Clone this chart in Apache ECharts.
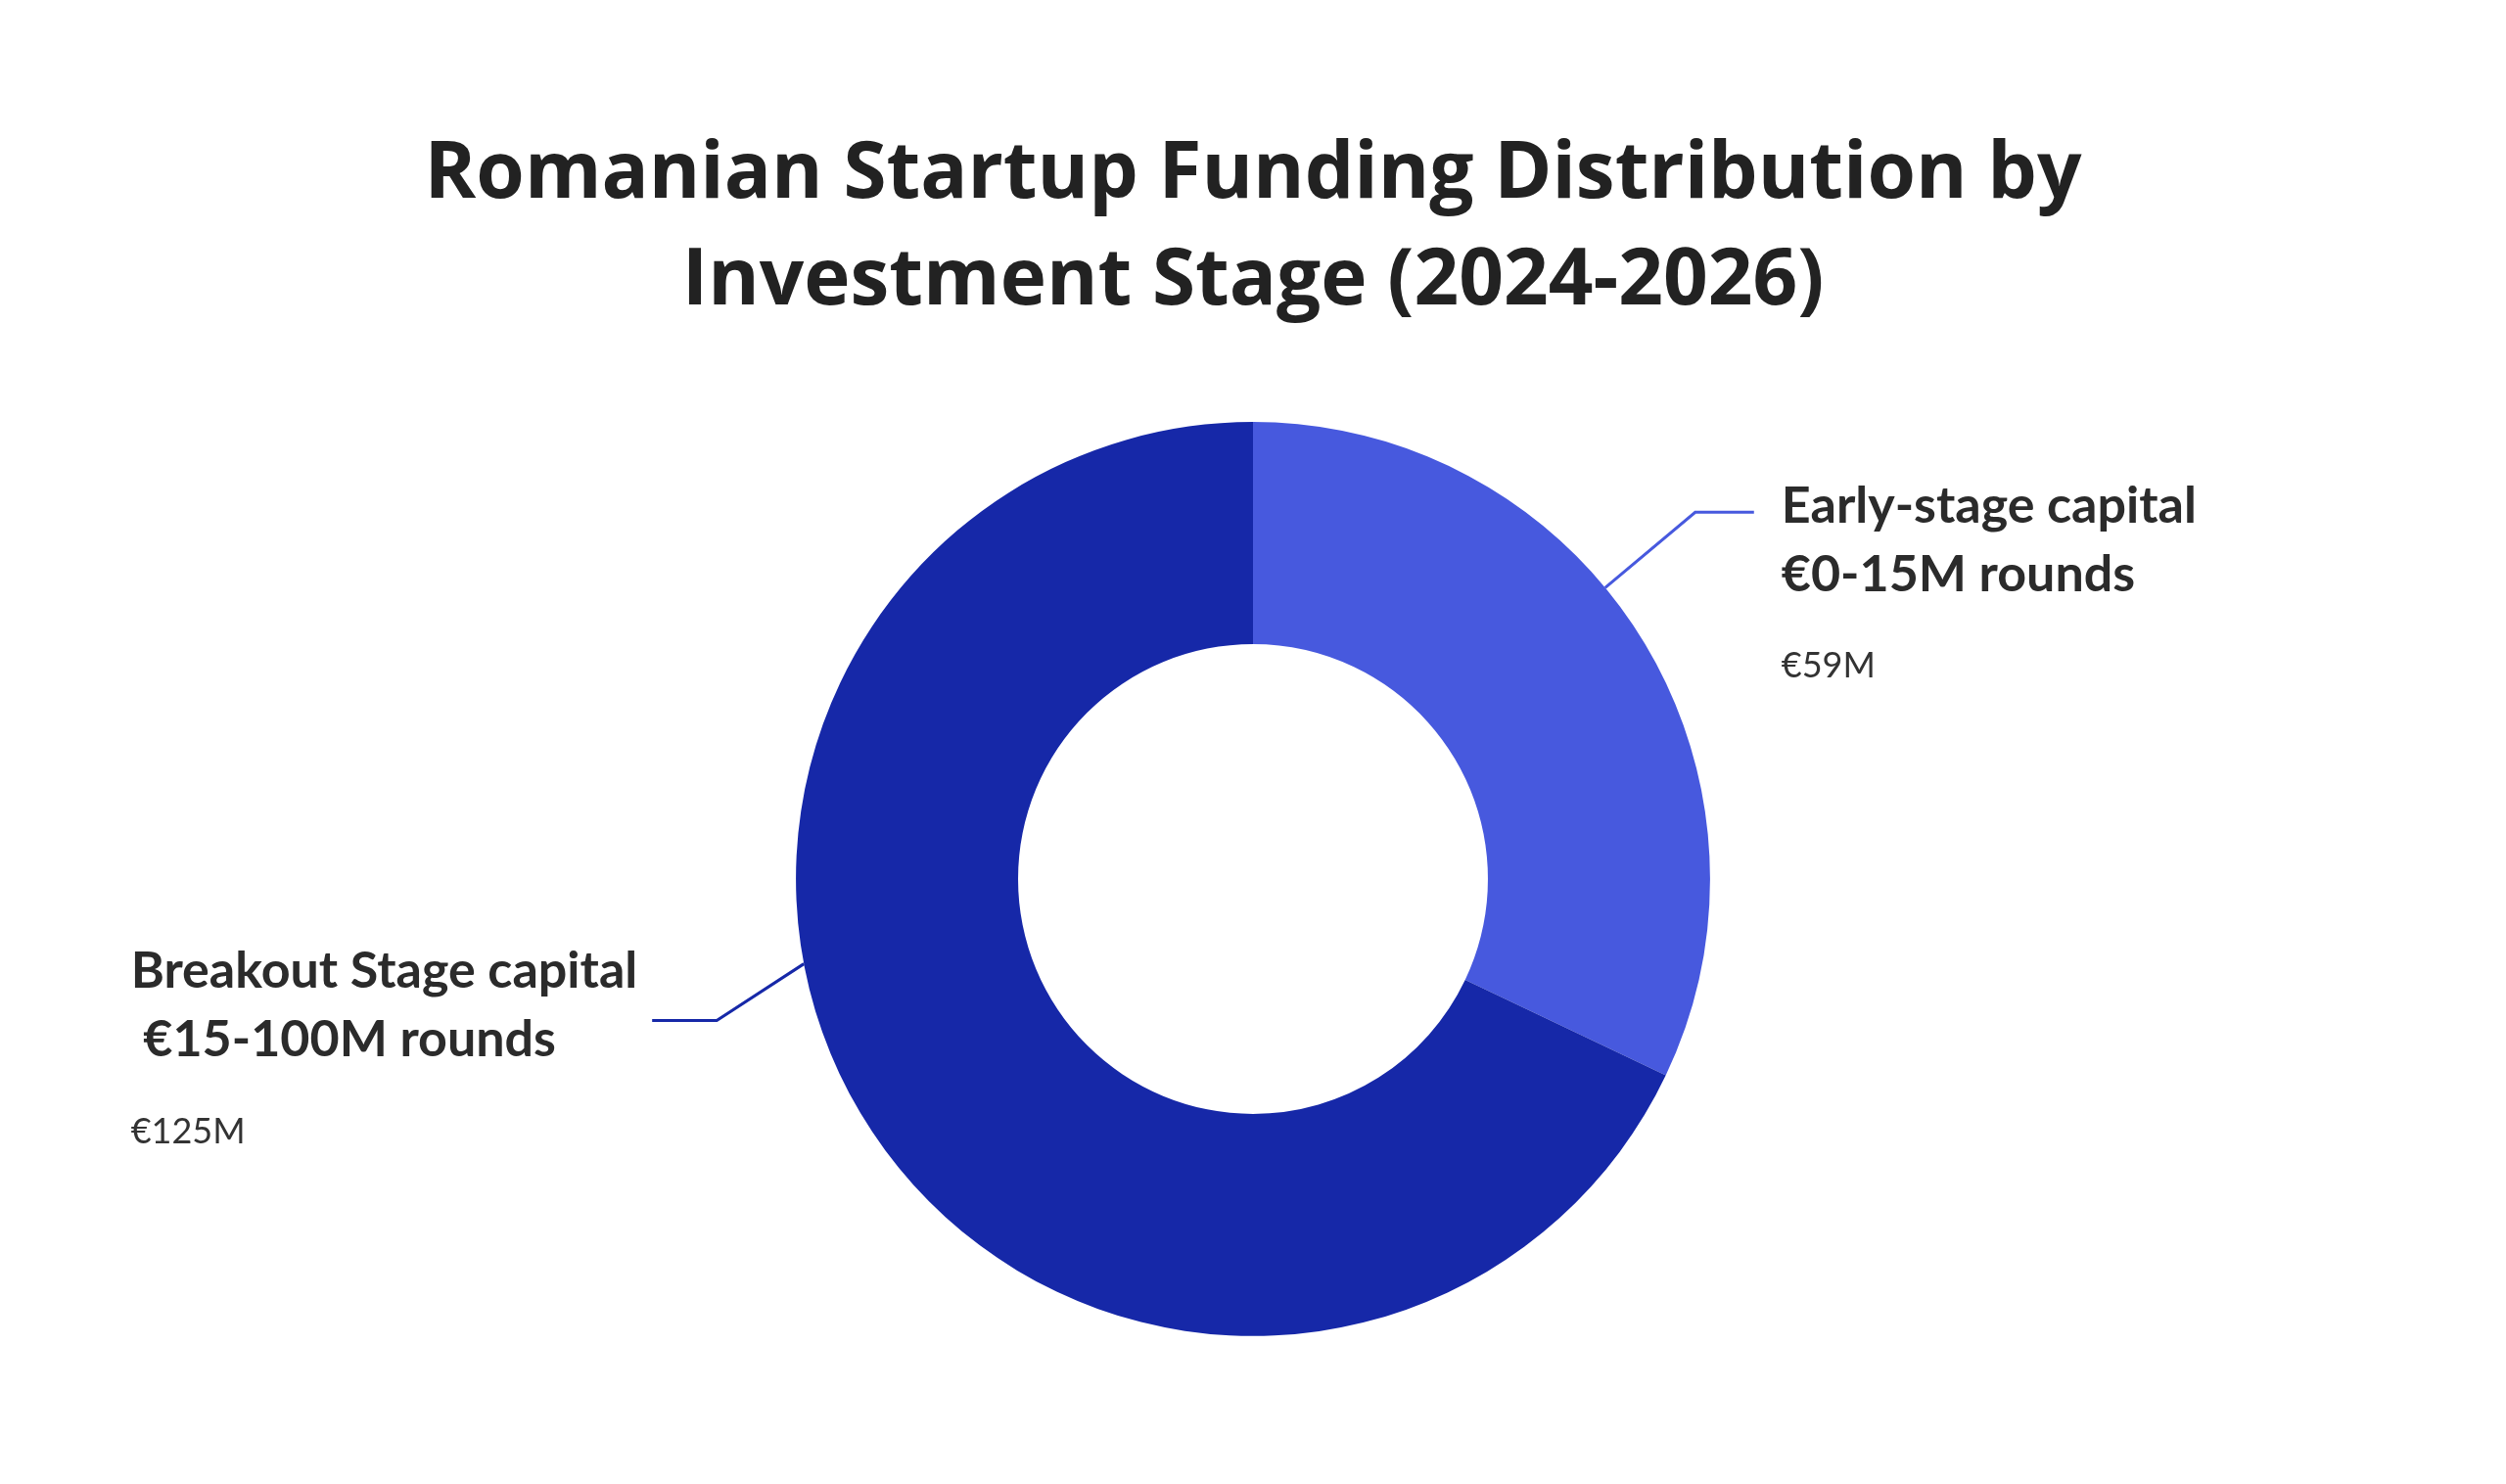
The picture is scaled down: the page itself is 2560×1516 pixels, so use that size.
<!DOCTYPE html>
<html>
<head>
<meta charset="utf-8">
<title>Romanian Startup Funding Distribution by Investment Stage (2024-2026)</title>
<script src="https://cdn.jsdelivr.net/npm/echarts@6/dist/echarts.min.js"></script>
<style>
  html, body { margin: 0; padding: 0; background: #ffffff; }
  #chart { width: 2560px; height: 1516px; }
</style>
</head>
<body>
<div id="chart"></div>
<script>
// ---- data ----
const chartTitle = 'Romanian Startup Funding Distribution by\nInvestment Stage (2024-2026)';
const stageNames = ['Early-stage capital', 'Breakout Stage capital'];
const stageRanges = ['€0-15M rounds', ' €15-100M rounds'];
const fundingValues = [59, 125];          // € millions
const valuePrefix = '€';
const valueSuffix = 'M';

// ---- styling / layout ----
const sliceColors = ['#4759DE', '#1628A8'];
const CENTER_X = 0.5, CENTER_Y = 0.5923;
const OUTER = 0.616, INNER = 0.3166;
// leader geometry: anchor angle on outer edge (deg), bend offset, horizontal run, text gap, text top offset
const leaders = [
  { angle: 39.6, bend: [92, -77], run: 60, gap: 28, top: -41.5 },
  { angle: 190.7, bend: [-89, 58], run: -66, gap: 15, top: -85.5 }
];

const chart = echarts.init(document.getElementById('chart'), null, { renderer: 'canvas' });

const pieData = stageNames.map(function (n, i) {
  return {
    name: n,
    value: fundingValues[i],
    itemStyle: { color: sliceColors[i] },
    labelLine: { lineStyle: { color: sliceColors[i], width: 3 } }
  };
});

const option = {
  backgroundColor: '#ffffff',
  animation: false,
  title: {
    text: chartTitle,
    left: 'center',
    top: 120,
    textStyle: {
      fontFamily: 'Open Sans',
      fontWeight: 'bold',
      fontSize: 80,
      lineHeight: 109,
      color: '#222222'
    }
  },
  series: [{
    type: 'pie',
    radius: [(INNER * 100) + '%', (OUTER * 100) + '%'],
    center: [(CENTER_X * 100) + '%', (CENTER_Y * 100) + '%'],
    startAngle: 90,
    clockwise: true,
    avoidLabelOverlap: false,
    silent: true,
    itemStyle: { borderWidth: 0 },
    label: {
      show: true,
      position: 'outside',
      formatter: function (p) {
        const i = p.dataIndex;
        return '{n|' + stageNames[i] + '}\n{n|' + stageRanges[i] + '}\n{v|' +
          valuePrefix + fundingValues[i] + valueSuffix + '}';
      },
      rich: {
        n: { fontFamily: 'Lato', fontWeight: 'bold', fontSize: 52, lineHeight: 70, color: '#2b2b2b', align: 'left' },
        v: { fontFamily: 'Lato', fontWeight: 'normal', fontSize: 36, lineHeight: 118, color: '#333333', align: 'left' }
      }
    },
    labelLine: { show: true, length: 20, length2: 20, smooth: false },
    labelLayout: function (p) {
      const W = chart.getWidth(), H = chart.getHeight();
      const cx = W * CENTER_X, cy = H * CENTER_Y;
      const R = OUTER * Math.min(W, H) / 2;
      const g = leaders[p.dataIndex];
      const a = g.angle * Math.PI / 180;
      const x0 = cx + R * Math.cos(a), y0 = cy - R * Math.sin(a);
      const x1 = x0 + g.bend[0], y1 = y0 + g.bend[1];
      const x2 = x1 + g.run, y2 = y1;
      const x = g.run > 0 ? x2 + g.gap : x2 - g.gap - p.labelRect.width;
      return {
        x: x,
        y: y2 + g.top,
        align: 'left',
        verticalAlign: 'top',
        labelLinePoints: [[x0, y0], [x1, y1], [x2, y2]]
      };
    },
    data: pieData
  }]
};

chart.setOption(option);
</script>
</body>
</html>
